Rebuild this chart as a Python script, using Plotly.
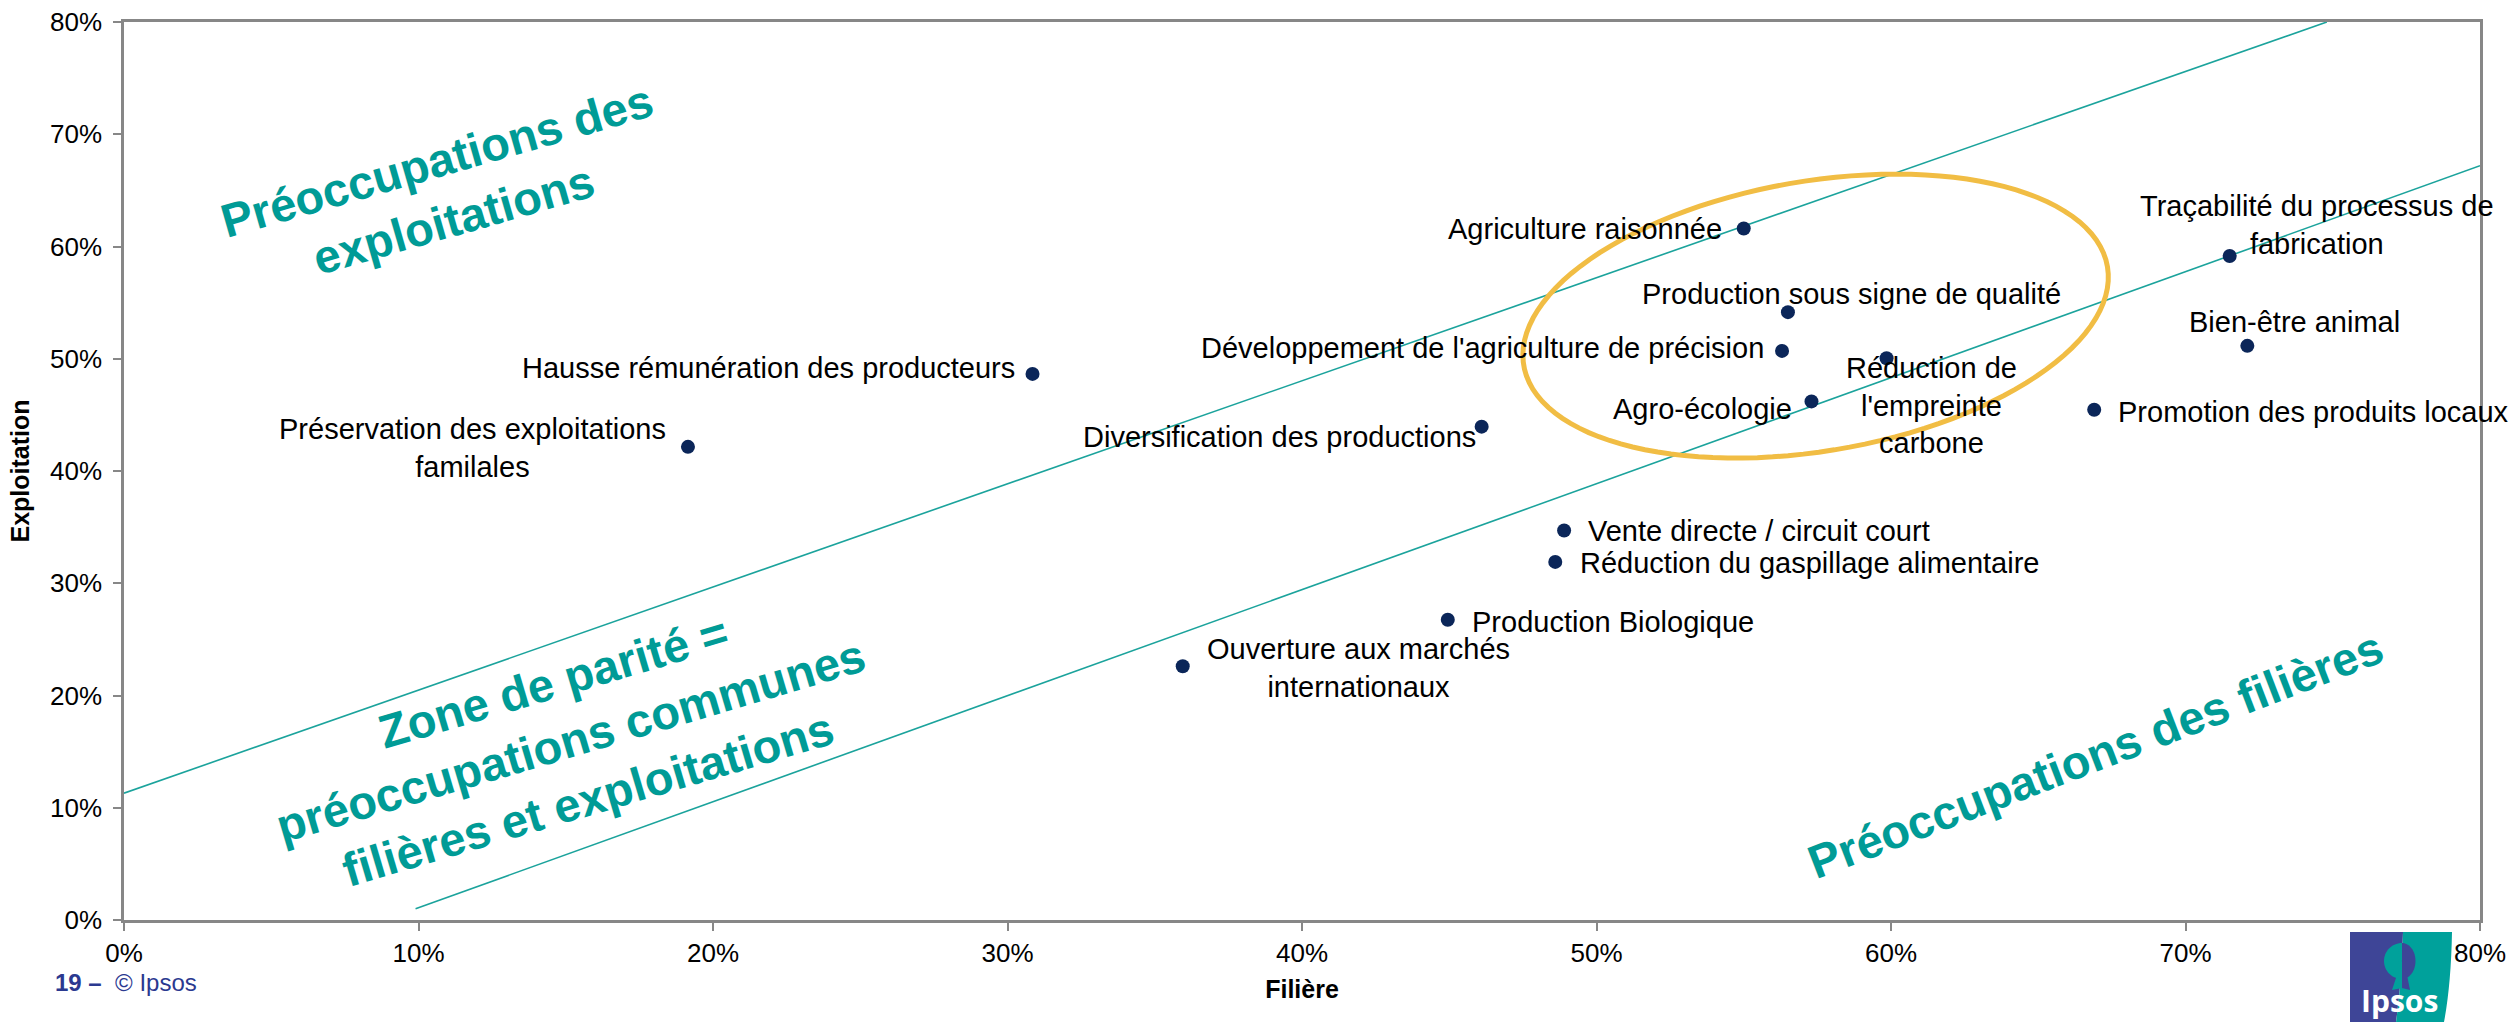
import numpy as np
import plotly.graph_objects as go

# ---------------- data ----------------
labels = [
    "Agriculture raisonnée",
    "Production sous signe de qualité",
    "Développement de l'agriculture de précision",
    "Réduction de<br>l'empreinte<br>carbone",
    "Agro-écologie",
    "Diversification des productions",
    "Hausse rémunération des producteurs",
    "Préservation des exploitations<br>familales",
    "Traçabilité du processus de<br>fabrication",
    "Bien-être animal",
    "Promotion des produits locaux",
    "Vente directe / circuit court",
    "Réduction du gaspillage alimentaire",
    "Production Biologique",
    "Ouverture aux marchés<br>internationaux",
]
filiere = [55.0, 56.5, 56.3, 59.85, 57.3, 46.1, 30.85, 19.15, 71.5, 72.1, 66.9, 48.9, 48.6, 44.95, 35.95]
exploitation = [61.6, 54.15, 50.7, 50.05, 46.2, 43.95, 48.65, 42.15, 59.15, 51.15, 45.45, 34.7, 31.9, 26.75, 22.6]

tick_vals = [0, 10, 20, 30, 40, 50, 60, 70, 80]
tick_text = ["0%", "10%", "20%", "30%", "40%", "50%", "60%", "70%", "80%"]

# parity zone boundary lines (Filière %, Exploitation %)
upper_line_x = [0.0, 74.8]
upper_line_y = [11.3, 80.0]
lower_line_x = [9.9, 80.0]
lower_line_y = [1.0, 67.2]

# ---------------- styling ----------------
W, H = 2517, 1022
ML, MR, MT, MB = 124, 37, 22, 102
PW, PH = W - ML - MR, H - MT - MB
sx, sy = PW / 80.0, PH / 80.0  # px per percent

# label placement (anchor, xshift px, yshift px)
label_pos = [
    ("right", -20, 0),
    ("center", 64, 18),
    ("right", -16, 3),
    ("center", 45, -47),
    ("right", -17, -8),
    ("right", -4, -10),
    ("right", -16, 6),
    ("right", -20, -1),
    ("center", 87, 31),
    ("center", 47, 24),
    ("left", 22, -2),
    ("left", 22, -1),
    ("left", 23, -1),
    ("left", 22, -2),
    ("left", 22, -2),
]

TEAL = "#009B96"
LINE_TEAL = "#1BA39C"
NAVY = "#0B2659"
FONT = "Arial, Liberation Sans, sans-serif"

fig = go.Figure()

fig.add_trace(go.Scatter(x=upper_line_x, y=upper_line_y, mode="lines",
                         line=dict(color=LINE_TEAL, width=1.6), hoverinfo="skip", showlegend=False))
fig.add_trace(go.Scatter(x=lower_line_x, y=lower_line_y, mode="lines",
                         line=dict(color=LINE_TEAL, width=1.6), hoverinfo="skip", showlegend=False))

fig.add_trace(go.Scatter(x=filiere, y=exploitation, mode="markers",
                         marker=dict(color=NAVY, size=14), text=labels,
                         hoverinfo="text", showlegend=False))

annotations = []
for lab, xv, yv, (anc, xs, ys) in zip(labels, filiere, exploitation, label_pos):
    annotations.append(dict(x=xv, y=yv, xref="x", yref="y", text=lab, showarrow=False,
                            xanchor=anc, yanchor="middle", xshift=xs, yshift=ys,
                            align="center", font=dict(family=FONT, size=29, color="#000000")))

# big teal region captions
annotations.append(dict(x=10.9, y=65.0, xref="x", yref="y",
                        text="<b>Préoccupations des<br>exploitations</b>", showarrow=False,
                        textangle=-16, font=dict(family=FONT, size=47, color=TEAL), align="center"))
annotations.append(dict(x=15.15, y=16.0, xref="x", yref="y",
                        text="<b>Zone de parité =<br>préoccupations communes<br>filières et exploitations</b>",
                        showarrow=False, textangle=-16.5,
                        font=dict(family=FONT, size=47, color=TEAL), align="center"))
annotations.append(dict(x=66.95, y=14.7, xref="x", yref="y",
                        text="<b>Préoccupations des filières</b>", showarrow=False, textangle=-21,
                        font=dict(family=FONT, size=47, color=TEAL), align="center"))


def px2paper(px, py):
    return (px - ML) / PW, (MT + PH - py) / PH


# footer
fx, fy = px2paper(53, 982)
annotations.append(dict(x=fx, y=fy, xref="paper", yref="paper",
                        xanchor="left", yanchor="middle", showarrow=False,
                        text="<b>19 –</b>  © Ipsos", font=dict(family=FONT, size=24, color="#2B3990")))
lx, ly = px2paper(2399, 1000)
annotations.append(dict(x=lx, y=ly, xref="paper", yref="paper",
                        xanchor="center", yanchor="middle", showarrow=False,
                        text="<b>Ipsos</b>", font=dict(family="Open Sans, Arial", size=30, color="#FFFFFF")))

# highlight ellipse (pixel-space geometry converted to data units)
ell_cx, ell_cy = 57.44, 53.8
ell_a, ell_b, ell_th = 296.0, 135.0, np.radians(9.6)
t = np.linspace(0, 2 * np.pi, 120)
ex = ell_cx + (ell_a * np.cos(t) * np.cos(ell_th) - ell_b * np.sin(t) * np.sin(ell_th)) / sx
ey = ell_cy + (ell_a * np.cos(t) * np.sin(ell_th) + ell_b * np.sin(t) * np.cos(ell_th)) / sy
ell_path = "M " + " L ".join(f"{a:.3f},{b:.3f}" for a, b in zip(ex, ey)) + " Z"


def ppath(points):
    s = ""
    for cmd, pts in points:
        s += cmd + " " + " ".join("%.5f,%.5f" % px2paper(*p) for p in pts) + " "
    return s + "Z"


def poly(pts):
    return "M " + " L ".join("%.5f,%.5f" % px2paper(*p) for p in pts) + " Z"


blue_path = ppath([("M", [(2350, 932)]), ("L", [(2403, 932)]),
                   ("Q", [(2402, 980), (2396, 1022)]), ("L", [(2350, 1022)])])
teal_path = ppath([("M", [(2403, 932)]), ("L", [(2452, 932)]),
                   ("Q", [(2451, 985), (2444, 1022)]), ("L", [(2396, 1022)]),
                   ("Q", [(2402, 980), (2403, 932)])])

# logo silhouette: crown halves
hc_x, hc_y, hr = 2402, 961, 18
ang_l = np.linspace(np.pi / 2, 3 * np.pi / 2, 30)
ang_r = np.linspace(-np.pi / 2, np.pi / 2, 30)
crown_left = [(hc_x + hr * np.cos(a), hc_y - hr * np.sin(a)) for a in ang_l]
crown_right = [(hc_x + 0.75 * hr * np.cos(a), hc_y - hr * np.sin(a)) for a in ang_r]
neck_left = [(2397, 975), (2402, 975), (2402, 988), (2392, 990)]
neck_right = [(2402, 975), (2407, 975), (2410, 990), (2402, 988)]

shapes = [
    dict(type="path", path=ell_path, xref="x", yref="y",
         line=dict(color="#F1BD44", width=5), fillcolor="rgba(0,0,0,0)", layer="above"),
    dict(type="path", path=blue_path, xref="paper", yref="paper",
         line=dict(width=0), fillcolor="#3E4597", layer="above"),
    dict(type="path", path=teal_path, xref="paper", yref="paper",
         line=dict(width=0), fillcolor="#00A19B", layer="above"),
    dict(type="path", path=poly(crown_left + [(hc_x, hc_y + hr)]), xref="paper", yref="paper",
         line=dict(width=0), fillcolor="#00A19B", layer="above"),
    dict(type="path", path=poly(crown_right), xref="paper", yref="paper",
         line=dict(width=0), fillcolor="#3E4597", layer="above"),
    dict(type="path", path=poly(neck_left), xref="paper", yref="paper",
         line=dict(width=0), fillcolor="#00A19B", layer="above"),
    dict(type="path", path=poly(neck_right), xref="paper", yref="paper",
         line=dict(width=0), fillcolor="#3E4597", layer="above"),
]

axis_common = dict(range=[0, 80], tickvals=tick_vals, ticktext=tick_text,
                   showgrid=False, zeroline=False, showline=True, mirror=True,
                   linecolor="#878787", linewidth=2.5, ticks="outside", ticklen=8,
                   tickwidth=2, tickcolor="#878787",
                   tickfont=dict(family=FONT, size=26, color="#000000"))

fig.update_layout(
    width=W, height=H,
    margin=dict(l=ML, r=MR, t=MT, b=MB, autoexpand=False),
    paper_bgcolor="white", plot_bgcolor="white",
    xaxis=dict(**axis_common, ticklabelstandoff=0,
               title=dict(text="<b>Filière</b>", standoff=14,
                          font=dict(family=FONT, size=25, color="#000000"))),
    yaxis=dict(**axis_common, ticklabelstandoff=6,
               title=dict(text="<b>Exploitation</b>", standoff=14,
                          font=dict(family=FONT, size=25, color="#000000"))),
    annotations=annotations,
    shapes=shapes,
)

fig.write_html("out.html", config={"displayModeBar": False},
               post_script="document.body.style.margin='0px';document.body.style.overflow='hidden';")
